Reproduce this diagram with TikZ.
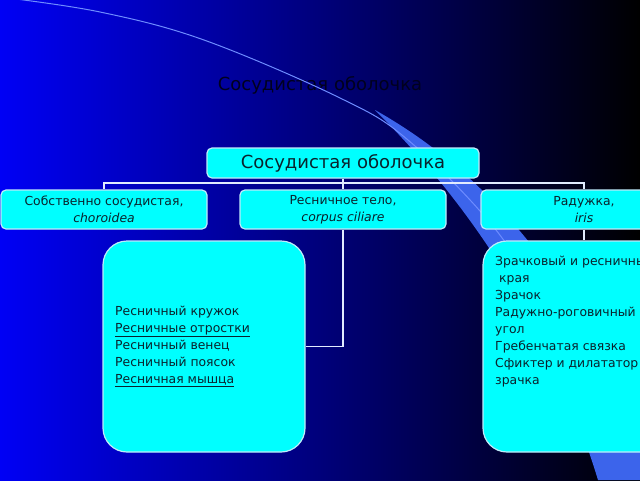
\documentclass[tikz,border=0pt]{standalone}
\usepackage{fontspec}
\setmainfont{DejaVu Sans}
\usetikzlibrary{positioning}

\definecolor{bgblue}{RGB}{0,0,245}
\definecolor{bgnavy}{RGB}{0,0,110}
\definecolor{swoosh}{RGB}{60,100,235}
\definecolor{swline}{RGB}{110,140,255}
\definecolor{boxfill}{RGB}{0,255,255}
\definecolor{boxedge}{RGB}{190,235,250}
\definecolor{boxtext}{RGB}{10,35,45}
\definecolor{titlecol}{RGB}{0,0,30}
\definecolor{linkcol}{RGB}{225,235,255}

\tikzset{
  box/.style={draw=boxedge, line width=1.2pt, fill=boxfill, rounded corners=5pt,
    text=boxtext, align=center, minimum width=206pt, minimum height=39pt,
    inner sep=0pt, font=\fontsize{12.4}{17}\selectfont},
  bigbox/.style={box, rounded corners=24pt, minimum width=202pt, minimum height=211pt},
  listtext/.style={text=boxtext, align=left, inner sep=0pt, font=\fontsize{12.4}{17}\selectfont},
  link/.style={draw=linkcol, line width=1.5pt},
}

\begin{document}
\begin{tikzpicture}[x=1pt, y=-1pt]
\def\ytop{163}
\def\ymid{209.5}
\def\ylist{346.5}

% background
\shade[left color=bgblue, middle color=bgnavy, right color=black] (0,0) rectangle (640,480);
\useasboundingbox (0,0) rectangle (640,480);
\clip (0,0) rectangle (640,480);

\node[text=titlecol, font=\fontsize{18}{20}\selectfont] (title) at (320,85) {Сосудистая оболочка};

% swooshes
\fill[swoosh] (375,110) .. controls (440,175) and (540,290) .. (598,480)
  -- (660,480) .. controls (590,300) and (500,180) .. (375,110) -- cycle;
\draw[swline, line width=1pt] plot[smooth, tension=0.6] coordinates {(0,-3) (100,12) (204,40) (338,97) (408,140) (496,230) (560,330)};

\node[box, minimum width=272pt, minimum height=30pt, font=\fontsize{18}{20}\selectfont] (root) at (343,\ytop) {Сосудистая оболочка};

\node[box] (choroid) at (104,\ymid) {Собственно сосудистая,\\\textit{choroidea}};
\node[box] (ciliary) at (343,\ymid) {Ресничное тело,\\\textit{corpus ciliare}};
\node[box] (iris) at (584,\ymid) {Радужка,\\\textit{iris}};

\node[bigbox] (cilparts) at (204,\ylist) {};
\node[bigbox] (irisparts) at (584,\ylist) {};

\node[listtext, anchor=west] (cillist) at (115,\ylist) {Ресничный кружок\\\underline{Ресничные отростки}\\Ресничный венец\\Ресничный поясок\\\underline{Ресничная мышца}};
\node[listtext, anchor=north west] (irislist) at (495,256) {Зрачковый и ресничный\\\ края\\Зрачок\\Радужно-роговичный\\угол\\Гребенчатая связка\\Сфиктер и дилататор\\зрачка};

\coordinate (bus) at (343,183);
\draw[link] (root.south) -- (ciliary.north);
\draw[link] (choroid.north) |- (bus) -| (iris.north);
\draw[link] (ciliary.south) |- (cilparts.east);
\draw[link] (iris.south) -- (irisparts.north);
\end{tikzpicture}
\end{document}
